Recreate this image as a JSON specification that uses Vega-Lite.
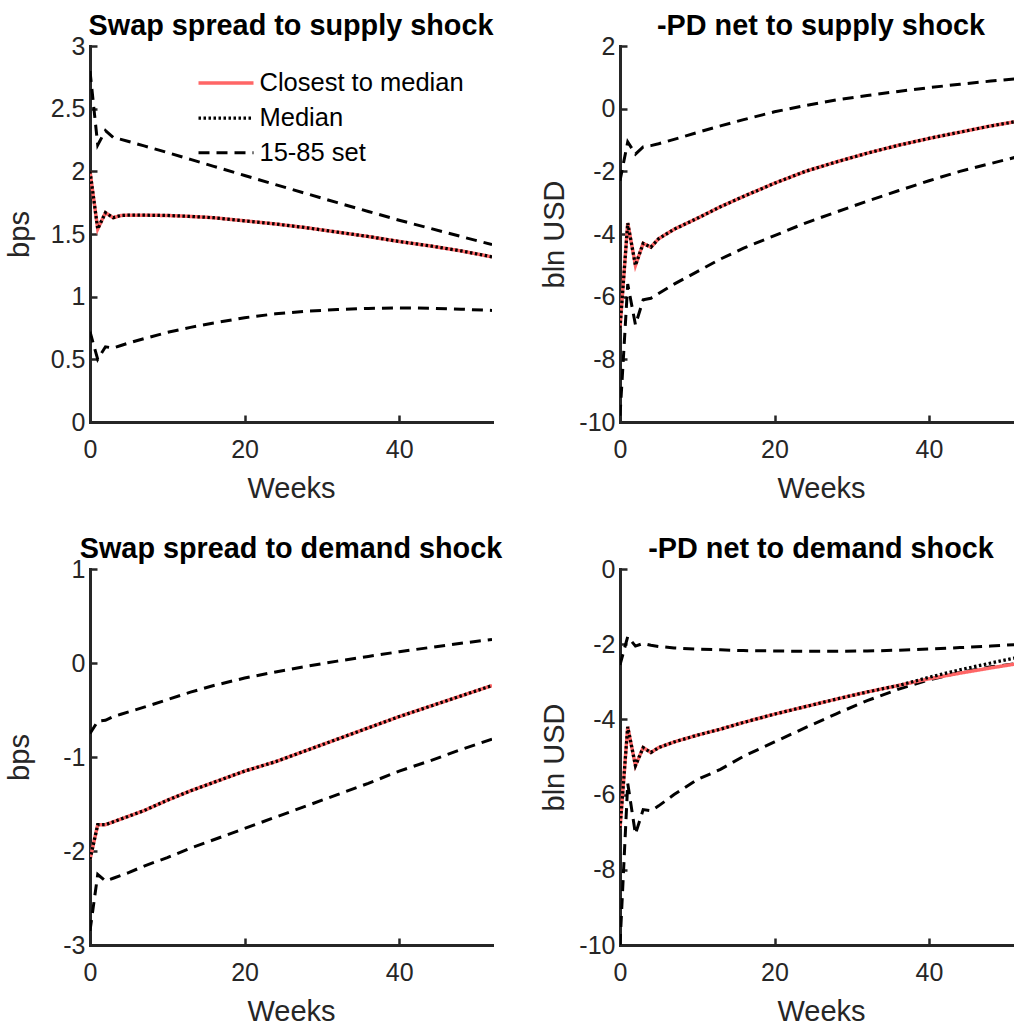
{
"$schema": "https://vega.github.io/schema/vega-lite/v6.json",
"background": "white",
"padding": {"left": 5, "top": 12, "right": 0, "bottom": 0},
"columns": 2,
"spacing": {"row": 147, "column": 128},
"bounds": "flush",
"resolve": {"scale": {"color": "independent", "strokeDash": "independent", "strokeWidth": "independent"}, "legend": {"color": "independent", "strokeDash": "independent", "strokeWidth": "independent"}},
"config": {
  "view": {"stroke": null},
  "font": "Liberation Sans",
  "line": {"strokeCap": "butt", "strokeJoin": "miter"},
  "axis": {"grid": false, "domainColor": "#262626", "domainWidth": 3, "domainCap": "square", "tickColor": "#262626", "tickWidth": 2.5, "tickSize": -7, "labelColor": "#262626", "labelFont": "Liberation Sans", "labelFontSize": 25, "labelFlush": false, "titleFont": "Liberation Sans", "titleFontSize": 29, "titleFontWeight": "normal", "titleColor": "#262626", "labelExpr": "'' + datum.value", "titleBaseline": "alphabetic", "titleAlign": "center"},
  "axisX": {"labelPadding": 22, "titleX": 201, "titleY": 75.5},
  "axisY": {"labelPadding": 12, "titleAngle": -90, "titleY": 188},
  "title": {"font": "Liberation Sans", "fontSize": 28.8, "fontWeight": "bold", "color": "#000000", "anchor": "middle", "frame": "group", "baseline": "alphabetic", "offset": -7},
  "legend": {"title": null, "labelFont": "Liberation Sans", "labelFontSize": 25.5, "labelColor": "#000000", "labelLimit": 500, "symbolType": "M-2.5,0H2.5", "symbolSize": 484, "rowPadding": 8, "labelOffset": 20.5, "padding": 0, "orient": "none"}
},
"data": {"values": [
{"p":1,"b":"hi","s":"15-85 set","w":0,"v":2.8},{"p":1,"b":"hi","s":"15-85 set","w":1,"v":2.21},{"p":1,"b":"hi","s":"15-85 set","w":2,"v":2.325},{"p":1,"b":"hi","s":"15-85 set","w":3,"v":2.27},{"p":1,"b":"hi","s":"15-85 set","w":4,"v":2.255},{"p":1,"b":"hi","s":"15-85 set","w":5,"v":2.238},{"p":1,"b":"hi","s":"15-85 set","w":7,"v":2.203},{"p":1,"b":"hi","s":"15-85 set","w":10,"v":2.15},{"p":1,"b":"hi","s":"15-85 set","w":13,"v":2.095},{"p":1,"b":"hi","s":"15-85 set","w":16,"v":2.04},{"p":1,"b":"hi","s":"15-85 set","w":20,"v":1.967},{"p":1,"b":"hi","s":"15-85 set","w":24,"v":1.894},{"p":1,"b":"hi","s":"15-85 set","w":28,"v":1.822},{"p":1,"b":"hi","s":"15-85 set","w":32,"v":1.75},{"p":1,"b":"hi","s":"15-85 set","w":36,"v":1.68},{"p":1,"b":"hi","s":"15-85 set","w":40,"v":1.61},{"p":1,"b":"hi","s":"15-85 set","w":44,"v":1.545},{"p":1,"b":"hi","s":"15-85 set","w":48,"v":1.48},{"p":1,"b":"hi","s":"15-85 set","w":52,"v":1.415},
{"p":1,"b":"lo","s":"15-85 set","w":0,"v":0.72},{"p":1,"b":"lo","s":"15-85 set","w":1,"v":0.5},{"p":1,"b":"lo","s":"15-85 set","w":2,"v":0.6},{"p":1,"b":"lo","s":"15-85 set","w":3,"v":0.59},{"p":1,"b":"lo","s":"15-85 set","w":4,"v":0.61},{"p":1,"b":"lo","s":"15-85 set","w":5,"v":0.63},{"p":1,"b":"lo","s":"15-85 set","w":7,"v":0.665},{"p":1,"b":"lo","s":"15-85 set","w":10,"v":0.715},{"p":1,"b":"lo","s":"15-85 set","w":13,"v":0.755},{"p":1,"b":"lo","s":"15-85 set","w":16,"v":0.79},{"p":1,"b":"lo","s":"15-85 set","w":20,"v":0.832},{"p":1,"b":"lo","s":"15-85 set","w":24,"v":0.863},{"p":1,"b":"lo","s":"15-85 set","w":28,"v":0.884},{"p":1,"b":"lo","s":"15-85 set","w":32,"v":0.898},{"p":1,"b":"lo","s":"15-85 set","w":36,"v":0.906},{"p":1,"b":"lo","s":"15-85 set","w":40,"v":0.91},{"p":1,"b":"lo","s":"15-85 set","w":44,"v":0.908},{"p":1,"b":"lo","s":"15-85 set","w":48,"v":0.9},{"p":1,"b":"lo","s":"15-85 set","w":52,"v":0.89},
{"p":1,"b":"c","s":"Closest to median","w":0,"v":2.0},{"p":1,"b":"c","s":"Closest to median","w":1,"v":1.54},{"p":1,"b":"c","s":"Closest to median","w":2,"v":1.67},{"p":1,"b":"c","s":"Closest to median","w":3,"v":1.63},{"p":1,"b":"c","s":"Closest to median","w":4,"v":1.648},{"p":1,"b":"c","s":"Closest to median","w":5,"v":1.65},{"p":1,"b":"c","s":"Closest to median","w":7,"v":1.65},{"p":1,"b":"c","s":"Closest to median","w":10,"v":1.648},{"p":1,"b":"c","s":"Closest to median","w":13,"v":1.64},{"p":1,"b":"c","s":"Closest to median","w":16,"v":1.63},{"p":1,"b":"c","s":"Closest to median","w":20,"v":1.605},{"p":1,"b":"c","s":"Closest to median","w":24,"v":1.58},{"p":1,"b":"c","s":"Closest to median","w":28,"v":1.55},{"p":1,"b":"c","s":"Closest to median","w":32,"v":1.515},{"p":1,"b":"c","s":"Closest to median","w":36,"v":1.48},{"p":1,"b":"c","s":"Closest to median","w":40,"v":1.44},{"p":1,"b":"c","s":"Closest to median","w":44,"v":1.405},{"p":1,"b":"c","s":"Closest to median","w":48,"v":1.365},{"p":1,"b":"c","s":"Closest to median","w":52,"v":1.318},
{"p":1,"b":"m","s":"Median","w":0,"v":2.0},{"p":1,"b":"m","s":"Median","w":1,"v":1.54},{"p":1,"b":"m","s":"Median","w":2,"v":1.67},{"p":1,"b":"m","s":"Median","w":3,"v":1.63},{"p":1,"b":"m","s":"Median","w":4,"v":1.648},{"p":1,"b":"m","s":"Median","w":5,"v":1.65},{"p":1,"b":"m","s":"Median","w":7,"v":1.65},{"p":1,"b":"m","s":"Median","w":10,"v":1.648},{"p":1,"b":"m","s":"Median","w":13,"v":1.64},{"p":1,"b":"m","s":"Median","w":16,"v":1.63},{"p":1,"b":"m","s":"Median","w":20,"v":1.605},{"p":1,"b":"m","s":"Median","w":24,"v":1.58},{"p":1,"b":"m","s":"Median","w":28,"v":1.55},{"p":1,"b":"m","s":"Median","w":32,"v":1.515},{"p":1,"b":"m","s":"Median","w":36,"v":1.48},{"p":1,"b":"m","s":"Median","w":40,"v":1.44},{"p":1,"b":"m","s":"Median","w":44,"v":1.405},{"p":1,"b":"m","s":"Median","w":48,"v":1.365},{"p":1,"b":"m","s":"Median","w":52,"v":1.318},
{"p":2,"b":"hi","s":"15-85 set","w":0,"v":-2.3},{"p":2,"b":"hi","s":"15-85 set","w":1,"v":-1.06},{"p":2,"b":"hi","s":"15-85 set","w":2,"v":-1.45},{"p":2,"b":"hi","s":"15-85 set","w":3,"v":-1.22},{"p":2,"b":"hi","s":"15-85 set","w":4,"v":-1.18},{"p":2,"b":"hi","s":"15-85 set","w":5,"v":-1.12},{"p":2,"b":"hi","s":"15-85 set","w":7,"v":-0.98},{"p":2,"b":"hi","s":"15-85 set","w":10,"v":-0.76},{"p":2,"b":"hi","s":"15-85 set","w":13,"v":-0.55},{"p":2,"b":"hi","s":"15-85 set","w":16,"v":-0.35},{"p":2,"b":"hi","s":"15-85 set","w":20,"v":-0.1},{"p":2,"b":"hi","s":"15-85 set","w":24,"v":0.1},{"p":2,"b":"hi","s":"15-85 set","w":28,"v":0.28},{"p":2,"b":"hi","s":"15-85 set","w":32,"v":0.42},{"p":2,"b":"hi","s":"15-85 set","w":36,"v":0.55},{"p":2,"b":"hi","s":"15-85 set","w":40,"v":0.67},{"p":2,"b":"hi","s":"15-85 set","w":44,"v":0.78},{"p":2,"b":"hi","s":"15-85 set","w":48,"v":0.88},{"p":2,"b":"hi","s":"15-85 set","w":52,"v":0.97},
{"p":2,"b":"lo","s":"15-85 set","w":0,"v":-9.8},{"p":2,"b":"lo","s":"15-85 set","w":1,"v":-5.6},{"p":2,"b":"lo","s":"15-85 set","w":2,"v":-6.9},{"p":2,"b":"lo","s":"15-85 set","w":3,"v":-6.1},{"p":2,"b":"lo","s":"15-85 set","w":4,"v":-6.05},{"p":2,"b":"lo","s":"15-85 set","w":5,"v":-5.9},{"p":2,"b":"lo","s":"15-85 set","w":7,"v":-5.6},{"p":2,"b":"lo","s":"15-85 set","w":10,"v":-5.2},{"p":2,"b":"lo","s":"15-85 set","w":13,"v":-4.8},{"p":2,"b":"lo","s":"15-85 set","w":16,"v":-4.45},{"p":2,"b":"lo","s":"15-85 set","w":20,"v":-4.05},{"p":2,"b":"lo","s":"15-85 set","w":24,"v":-3.65},{"p":2,"b":"lo","s":"15-85 set","w":28,"v":-3.3},{"p":2,"b":"lo","s":"15-85 set","w":32,"v":-2.95},{"p":2,"b":"lo","s":"15-85 set","w":36,"v":-2.62},{"p":2,"b":"lo","s":"15-85 set","w":40,"v":-2.3},{"p":2,"b":"lo","s":"15-85 set","w":44,"v":-2.0},{"p":2,"b":"lo","s":"15-85 set","w":48,"v":-1.75},{"p":2,"b":"lo","s":"15-85 set","w":52,"v":-1.5},
{"p":2,"b":"c","s":"Closest to median","w":0,"v":-7.0},{"p":2,"b":"c","s":"Closest to median","w":1,"v":-3.65},{"p":2,"b":"c","s":"Closest to median","w":2,"v":-5.0},{"p":2,"b":"c","s":"Closest to median","w":3,"v":-4.3},{"p":2,"b":"c","s":"Closest to median","w":4,"v":-4.42},{"p":2,"b":"c","s":"Closest to median","w":5,"v":-4.15},{"p":2,"b":"c","s":"Closest to median","w":7,"v":-3.85},{"p":2,"b":"c","s":"Closest to median","w":10,"v":-3.5},{"p":2,"b":"c","s":"Closest to median","w":13,"v":-3.13},{"p":2,"b":"c","s":"Closest to median","w":16,"v":-2.8},{"p":2,"b":"c","s":"Closest to median","w":20,"v":-2.38},{"p":2,"b":"c","s":"Closest to median","w":24,"v":-2.0},{"p":2,"b":"c","s":"Closest to median","w":28,"v":-1.7},{"p":2,"b":"c","s":"Closest to median","w":32,"v":-1.42},{"p":2,"b":"c","s":"Closest to median","w":36,"v":-1.17},{"p":2,"b":"c","s":"Closest to median","w":40,"v":-0.95},{"p":2,"b":"c","s":"Closest to median","w":44,"v":-0.75},{"p":2,"b":"c","s":"Closest to median","w":48,"v":-0.55},{"p":2,"b":"c","s":"Closest to median","w":52,"v":-0.38},
{"p":2,"b":"m","s":"Median","w":0,"v":-7.0},{"p":2,"b":"m","s":"Median","w":1,"v":-3.65},{"p":2,"b":"m","s":"Median","w":2,"v":-5.0},{"p":2,"b":"m","s":"Median","w":3,"v":-4.3},{"p":2,"b":"m","s":"Median","w":4,"v":-4.42},{"p":2,"b":"m","s":"Median","w":5,"v":-4.15},{"p":2,"b":"m","s":"Median","w":7,"v":-3.85},{"p":2,"b":"m","s":"Median","w":10,"v":-3.5},{"p":2,"b":"m","s":"Median","w":13,"v":-3.13},{"p":2,"b":"m","s":"Median","w":16,"v":-2.8},{"p":2,"b":"m","s":"Median","w":20,"v":-2.38},{"p":2,"b":"m","s":"Median","w":24,"v":-2.0},{"p":2,"b":"m","s":"Median","w":28,"v":-1.7},{"p":2,"b":"m","s":"Median","w":32,"v":-1.42},{"p":2,"b":"m","s":"Median","w":36,"v":-1.17},{"p":2,"b":"m","s":"Median","w":40,"v":-0.95},{"p":2,"b":"m","s":"Median","w":44,"v":-0.75},{"p":2,"b":"m","s":"Median","w":48,"v":-0.55},{"p":2,"b":"m","s":"Median","w":52,"v":-0.38},
{"p":3,"b":"hi","s":"15-85 set","w":0,"v":-0.75},{"p":3,"b":"hi","s":"15-85 set","w":1,"v":-0.62},{"p":3,"b":"hi","s":"15-85 set","w":2,"v":-0.61},{"p":3,"b":"hi","s":"15-85 set","w":3,"v":-0.57},{"p":3,"b":"hi","s":"15-85 set","w":4,"v":-0.545},{"p":3,"b":"hi","s":"15-85 set","w":5,"v":-0.52},{"p":3,"b":"hi","s":"15-85 set","w":7,"v":-0.47},{"p":3,"b":"hi","s":"15-85 set","w":10,"v":-0.39},{"p":3,"b":"hi","s":"15-85 set","w":13,"v":-0.31},{"p":3,"b":"hi","s":"15-85 set","w":16,"v":-0.24},{"p":3,"b":"hi","s":"15-85 set","w":20,"v":-0.16},{"p":3,"b":"hi","s":"15-85 set","w":24,"v":-0.095},{"p":3,"b":"hi","s":"15-85 set","w":28,"v":-0.035},{"p":3,"b":"hi","s":"15-85 set","w":32,"v":0.02},{"p":3,"b":"hi","s":"15-85 set","w":36,"v":0.07},{"p":3,"b":"hi","s":"15-85 set","w":40,"v":0.12},{"p":3,"b":"hi","s":"15-85 set","w":44,"v":0.165},{"p":3,"b":"hi","s":"15-85 set","w":48,"v":0.21},{"p":3,"b":"hi","s":"15-85 set","w":52,"v":0.25},
{"p":3,"b":"lo","s":"15-85 set","w":0,"v":-2.85},{"p":3,"b":"lo","s":"15-85 set","w":1,"v":-2.25},{"p":3,"b":"lo","s":"15-85 set","w":2,"v":-2.32},{"p":3,"b":"lo","s":"15-85 set","w":3,"v":-2.29},{"p":3,"b":"lo","s":"15-85 set","w":4,"v":-2.26},{"p":3,"b":"lo","s":"15-85 set","w":5,"v":-2.23},{"p":3,"b":"lo","s":"15-85 set","w":7,"v":-2.16},{"p":3,"b":"lo","s":"15-85 set","w":10,"v":-2.07},{"p":3,"b":"lo","s":"15-85 set","w":13,"v":-1.97},{"p":3,"b":"lo","s":"15-85 set","w":16,"v":-1.88},{"p":3,"b":"lo","s":"15-85 set","w":20,"v":-1.76},{"p":3,"b":"lo","s":"15-85 set","w":24,"v":-1.64},{"p":3,"b":"lo","s":"15-85 set","w":28,"v":-1.52},{"p":3,"b":"lo","s":"15-85 set","w":32,"v":-1.4},{"p":3,"b":"lo","s":"15-85 set","w":36,"v":-1.28},{"p":3,"b":"lo","s":"15-85 set","w":40,"v":-1.15},{"p":3,"b":"lo","s":"15-85 set","w":44,"v":-1.04},{"p":3,"b":"lo","s":"15-85 set","w":48,"v":-0.92},{"p":3,"b":"lo","s":"15-85 set","w":52,"v":-0.81},
{"p":3,"b":"c","s":"Closest to median","w":0,"v":-2.09},{"p":3,"b":"c","s":"Closest to median","w":1,"v":-1.72},{"p":3,"b":"c","s":"Closest to median","w":2,"v":-1.72},{"p":3,"b":"c","s":"Closest to median","w":3,"v":-1.69},{"p":3,"b":"c","s":"Closest to median","w":4,"v":-1.66},{"p":3,"b":"c","s":"Closest to median","w":5,"v":-1.63},{"p":3,"b":"c","s":"Closest to median","w":7,"v":-1.57},{"p":3,"b":"c","s":"Closest to median","w":10,"v":-1.46},{"p":3,"b":"c","s":"Closest to median","w":13,"v":-1.36},{"p":3,"b":"c","s":"Closest to median","w":16,"v":-1.27},{"p":3,"b":"c","s":"Closest to median","w":20,"v":-1.15},{"p":3,"b":"c","s":"Closest to median","w":24,"v":-1.05},{"p":3,"b":"c","s":"Closest to median","w":28,"v":-0.93},{"p":3,"b":"c","s":"Closest to median","w":32,"v":-0.81},{"p":3,"b":"c","s":"Closest to median","w":36,"v":-0.69},{"p":3,"b":"c","s":"Closest to median","w":40,"v":-0.57},{"p":3,"b":"c","s":"Closest to median","w":44,"v":-0.46},{"p":3,"b":"c","s":"Closest to median","w":48,"v":-0.35},{"p":3,"b":"c","s":"Closest to median","w":52,"v":-0.24},
{"p":3,"b":"m","s":"Median","w":0,"v":-2.09},{"p":3,"b":"m","s":"Median","w":1,"v":-1.72},{"p":3,"b":"m","s":"Median","w":2,"v":-1.72},{"p":3,"b":"m","s":"Median","w":3,"v":-1.69},{"p":3,"b":"m","s":"Median","w":4,"v":-1.66},{"p":3,"b":"m","s":"Median","w":5,"v":-1.63},{"p":3,"b":"m","s":"Median","w":7,"v":-1.57},{"p":3,"b":"m","s":"Median","w":10,"v":-1.46},{"p":3,"b":"m","s":"Median","w":13,"v":-1.36},{"p":3,"b":"m","s":"Median","w":16,"v":-1.27},{"p":3,"b":"m","s":"Median","w":20,"v":-1.15},{"p":3,"b":"m","s":"Median","w":24,"v":-1.05},{"p":3,"b":"m","s":"Median","w":28,"v":-0.93},{"p":3,"b":"m","s":"Median","w":32,"v":-0.81},{"p":3,"b":"m","s":"Median","w":36,"v":-0.69},{"p":3,"b":"m","s":"Median","w":40,"v":-0.57},{"p":3,"b":"m","s":"Median","w":44,"v":-0.46},{"p":3,"b":"m","s":"Median","w":48,"v":-0.35},{"p":3,"b":"m","s":"Median","w":52,"v":-0.24},
{"p":4,"b":"hi","s":"15-85 set","w":0,"v":-2.55},{"p":4,"b":"hi","s":"15-85 set","w":1,"v":-1.8},{"p":4,"b":"hi","s":"15-85 set","w":2,"v":-2.05},{"p":4,"b":"hi","s":"15-85 set","w":3,"v":-1.98},{"p":4,"b":"hi","s":"15-85 set","w":4,"v":-2.03},{"p":4,"b":"hi","s":"15-85 set","w":5,"v":-2.06},{"p":4,"b":"hi","s":"15-85 set","w":7,"v":-2.1},{"p":4,"b":"hi","s":"15-85 set","w":10,"v":-2.13},{"p":4,"b":"hi","s":"15-85 set","w":13,"v":-2.15},{"p":4,"b":"hi","s":"15-85 set","w":16,"v":-2.17},{"p":4,"b":"hi","s":"15-85 set","w":20,"v":-2.18},{"p":4,"b":"hi","s":"15-85 set","w":24,"v":-2.19},{"p":4,"b":"hi","s":"15-85 set","w":28,"v":-2.19},{"p":4,"b":"hi","s":"15-85 set","w":32,"v":-2.18},{"p":4,"b":"hi","s":"15-85 set","w":36,"v":-2.16},{"p":4,"b":"hi","s":"15-85 set","w":40,"v":-2.13},{"p":4,"b":"hi","s":"15-85 set","w":44,"v":-2.09},{"p":4,"b":"hi","s":"15-85 set","w":48,"v":-2.05},{"p":4,"b":"hi","s":"15-85 set","w":52,"v":-2.0},
{"p":4,"b":"lo","s":"15-85 set","w":0,"v":-10},{"p":4,"b":"lo","s":"15-85 set","w":1,"v":-5.7},{"p":4,"b":"lo","s":"15-85 set","w":2,"v":-7.05},{"p":4,"b":"lo","s":"15-85 set","w":3,"v":-6.4},{"p":4,"b":"lo","s":"15-85 set","w":4,"v":-6.43},{"p":4,"b":"lo","s":"15-85 set","w":5,"v":-6.3},{"p":4,"b":"lo","s":"15-85 set","w":7,"v":-6.0},{"p":4,"b":"lo","s":"15-85 set","w":10,"v":-5.6},{"p":4,"b":"lo","s":"15-85 set","w":13,"v":-5.33},{"p":4,"b":"lo","s":"15-85 set","w":16,"v":-4.98},{"p":4,"b":"lo","s":"15-85 set","w":20,"v":-4.6},{"p":4,"b":"lo","s":"15-85 set","w":24,"v":-4.22},{"p":4,"b":"lo","s":"15-85 set","w":28,"v":-3.85},{"p":4,"b":"lo","s":"15-85 set","w":32,"v":-3.5},{"p":4,"b":"lo","s":"15-85 set","w":36,"v":-3.2},{"p":4,"b":"lo","s":"15-85 set","w":40,"v":-2.95},{"p":4,"b":"lo","s":"15-85 set","w":44,"v":-2.75},{"p":4,"b":"lo","s":"15-85 set","w":48,"v":-2.6},{"p":4,"b":"lo","s":"15-85 set","w":52,"v":-2.5},
{"p":4,"b":"c","s":"Closest to median","w":0,"v":-6.9},{"p":4,"b":"c","s":"Closest to median","w":1,"v":-4.2},{"p":4,"b":"c","s":"Closest to median","w":2,"v":-5.23},{"p":4,"b":"c","s":"Closest to median","w":3,"v":-4.75},{"p":4,"b":"c","s":"Closest to median","w":4,"v":-4.88},{"p":4,"b":"c","s":"Closest to median","w":5,"v":-4.75},{"p":4,"b":"c","s":"Closest to median","w":7,"v":-4.6},{"p":4,"b":"c","s":"Closest to median","w":10,"v":-4.42},{"p":4,"b":"c","s":"Closest to median","w":13,"v":-4.26},{"p":4,"b":"c","s":"Closest to median","w":16,"v":-4.08},{"p":4,"b":"c","s":"Closest to median","w":20,"v":-3.86},{"p":4,"b":"c","s":"Closest to median","w":24,"v":-3.66},{"p":4,"b":"c","s":"Closest to median","w":28,"v":-3.46},{"p":4,"b":"c","s":"Closest to median","w":32,"v":-3.27},{"p":4,"b":"c","s":"Closest to median","w":36,"v":-3.1},{"p":4,"b":"c","s":"Closest to median","w":40,"v":-2.92},{"p":4,"b":"c","s":"Closest to median","w":44,"v":-2.77},{"p":4,"b":"c","s":"Closest to median","w":48,"v":-2.63},{"p":4,"b":"c","s":"Closest to median","w":52,"v":-2.5},
{"p":4,"b":"m","s":"Median","w":0,"v":-6.9},{"p":4,"b":"m","s":"Median","w":1,"v":-4.2},{"p":4,"b":"m","s":"Median","w":2,"v":-5.23},{"p":4,"b":"m","s":"Median","w":3,"v":-4.75},{"p":4,"b":"m","s":"Median","w":4,"v":-4.88},{"p":4,"b":"m","s":"Median","w":5,"v":-4.75},{"p":4,"b":"m","s":"Median","w":7,"v":-4.6},{"p":4,"b":"m","s":"Median","w":10,"v":-4.42},{"p":4,"b":"m","s":"Median","w":13,"v":-4.26},{"p":4,"b":"m","s":"Median","w":16,"v":-4.08},{"p":4,"b":"m","s":"Median","w":20,"v":-3.86},{"p":4,"b":"m","s":"Median","w":24,"v":-3.66},{"p":4,"b":"m","s":"Median","w":28,"v":-3.46},{"p":4,"b":"m","s":"Median","w":32,"v":-3.27},{"p":4,"b":"m","s":"Median","w":36,"v":-3.1},{"p":4,"b":"m","s":"Median","w":40,"v":-2.88},{"p":4,"b":"m","s":"Median","w":44,"v":-2.68},{"p":4,"b":"m","s":"Median","w":48,"v":-2.5},{"p":4,"b":"m","s":"Median","w":52,"v":-2.33}
]},
"concat": [
{
  "width": 402, "height": 376,
  "title": {"text": "Swap spread to supply shock"},
  "transform": [{"filter": "datum.p == 1"}],
  "encoding": {
    "x": {"field": "w", "type": "quantitative", "scale": {"domain": [0, 52], "nice": false, "zero": false}, "axis": {"values": [0, 20, 40], "title": "Weeks"}},
    "y": {"field": "v", "type": "quantitative", "scale": {"domain": [0, 3], "nice": false}, "axis": {"values": [0, 0.5, 1, 1.5, 2, 2.5, 3], "title": "bps", "titleX": -62}},
    "color": {"field": "s", "type": "nominal", "scale": {"domain": ["Closest to median", "Median", "15-85 set"], "range": ["#ff6666", "#000000", "#000000"]}, "legend": {"legendX": 123, "legendY": 24}},
    "strokeDash": {"field": "s", "type": "nominal", "scale": {"domain": ["Closest to median", "Median", "15-85 set"], "range": [[1, 0], [2.5, 2.5], [11, 7]]}, "legend": {"legendX": 123, "legendY": 24}},
    "strokeWidth": {"field": "s", "type": "ordinal", "scale": {"domain": ["Closest to median", "Median", "15-85 set"], "range": [3.5, 3, 1.5]}, "legend": {"legendX": 123, "legendY": 24}},
    "detail": {"field": "b"}
  },
  "layer": [
    {"transform": [{"filter": "datum.b == 'hi' || datum.b == 'lo'"}], "mark": {"type": "line", "clip": true}},
    {"transform": [{"filter": "datum.b == 'c'"}], "mark": {"type": "line", "clip": true}},
    {"transform": [{"filter": "datum.b == 'm'"}], "mark": {"type": "line", "clip": true}}
  ]
},
{
  "width": 394, "height": 376,
  "title": {"text": "-PD net to supply shock", "dx": 4},
  "transform": [{"filter": "datum.p == 2"}],
  "encoding": {
    "x": {"field": "w", "type": "quantitative", "scale": {"domain": [0, 51], "nice": false, "zero": false}, "axis": {"values": [0, 20, 40], "title": "Weeks"}},
    "y": {"field": "v", "type": "quantitative", "scale": {"domain": [-10, 2], "nice": false}, "axis": {"values": [-10, -8, -6, -4, -2, 0, 2], "title": "bln USD", "titleX": -57}},
    "color": {"field": "s", "type": "nominal", "scale": {"domain": ["Closest to median", "Median", "15-85 set"], "range": ["#ff6666", "#000000", "#000000"]}, "legend": null},
    "strokeDash": {"field": "s", "type": "nominal", "scale": {"domain": ["Closest to median", "Median", "15-85 set"], "range": [[1, 0], [2.5, 2.5], [11, 7]]}, "legend": null},
    "strokeWidth": {"field": "s", "type": "ordinal", "scale": {"domain": ["Closest to median", "Median", "15-85 set"], "range": [3.5, 3, 1.5]}, "legend": null},
    "detail": {"field": "b"}
  },
  "layer": [
    {"transform": [{"filter": "datum.b == 'hi' || datum.b == 'lo'"}], "mark": {"type": "line", "clip": true}},
    {"transform": [{"filter": "datum.b == 'c'"}], "mark": {"type": "line", "clip": true}},
    {"transform": [{"filter": "datum.b == 'm'"}], "mark": {"type": "line", "clip": true}}
  ]
},
{
  "width": 402, "height": 376,
  "title": {"text": "Swap spread to demand shock"},
  "transform": [{"filter": "datum.p == 3"}],
  "encoding": {
    "x": {"field": "w", "type": "quantitative", "scale": {"domain": [0, 52], "nice": false, "zero": false}, "axis": {"values": [0, 20, 40], "title": "Weeks"}},
    "y": {"field": "v", "type": "quantitative", "scale": {"domain": [-3, 1], "nice": false}, "axis": {"values": [-3, -2, -1, 0, 1], "title": "bps", "titleX": -62}},
    "color": {"field": "s", "type": "nominal", "scale": {"domain": ["Closest to median", "Median", "15-85 set"], "range": ["#ff6666", "#000000", "#000000"]}, "legend": null},
    "strokeDash": {"field": "s", "type": "nominal", "scale": {"domain": ["Closest to median", "Median", "15-85 set"], "range": [[1, 0], [2.5, 2.5], [11, 7]]}, "legend": null},
    "strokeWidth": {"field": "s", "type": "ordinal", "scale": {"domain": ["Closest to median", "Median", "15-85 set"], "range": [3.5, 3, 1.5]}, "legend": null},
    "detail": {"field": "b"}
  },
  "layer": [
    {"transform": [{"filter": "datum.b == 'hi' || datum.b == 'lo'"}], "mark": {"type": "line", "clip": true}},
    {"transform": [{"filter": "datum.b == 'c'"}], "mark": {"type": "line", "clip": true}},
    {"transform": [{"filter": "datum.b == 'm'"}], "mark": {"type": "line", "clip": true}}
  ]
},
{
  "width": 394, "height": 376,
  "title": {"text": "-PD net to demand shock", "dx": 4},
  "transform": [{"filter": "datum.p == 4"}],
  "encoding": {
    "x": {"field": "w", "type": "quantitative", "scale": {"domain": [0, 51], "nice": false, "zero": false}, "axis": {"values": [0, 20, 40], "title": "Weeks"}},
    "y": {"field": "v", "type": "quantitative", "scale": {"domain": [-10, 0], "nice": false}, "axis": {"values": [-10, -8, -6, -4, -2, 0], "title": "bln USD", "titleX": -57}},
    "color": {"field": "s", "type": "nominal", "scale": {"domain": ["Closest to median", "Median", "15-85 set"], "range": ["#ff6666", "#000000", "#000000"]}, "legend": null},
    "strokeDash": {"field": "s", "type": "nominal", "scale": {"domain": ["Closest to median", "Median", "15-85 set"], "range": [[1, 0], [2.5, 2.5], [11, 7]]}, "legend": null},
    "strokeWidth": {"field": "s", "type": "ordinal", "scale": {"domain": ["Closest to median", "Median", "15-85 set"], "range": [3.5, 3, 1.5]}, "legend": null},
    "detail": {"field": "b"}
  },
  "layer": [
    {"transform": [{"filter": "datum.b == 'hi' || datum.b == 'lo'"}], "mark": {"type": "line", "clip": true}},
    {"transform": [{"filter": "datum.b == 'c'"}], "mark": {"type": "line", "clip": true}},
    {"transform": [{"filter": "datum.b == 'm'"}], "mark": {"type": "line", "clip": true}}
  ]
}
]
}
